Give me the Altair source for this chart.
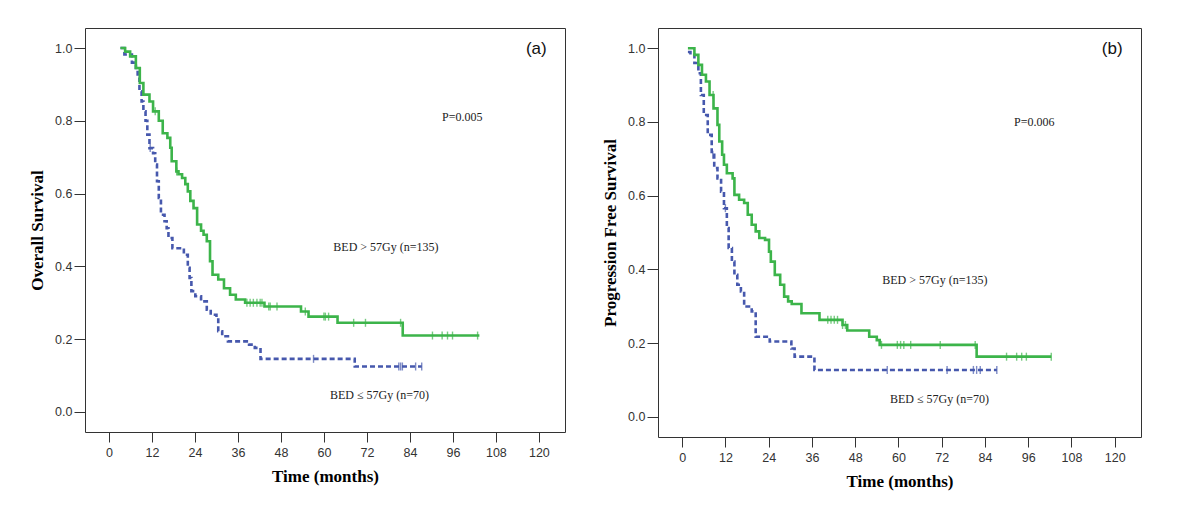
import altair as alt
import pandas as pd

GREEN = "#3cb44a"
BLUE = "#4658ad"

# ---------- (a) Overall survival ----------
a_hi_t = [3.2, 4.5, 5.9, 7.5, 8.6, 9.6, 11.3, 12.3, 13.9, 15.0, 16.3, 17.1, 17.5, 18.8, 19.4, 20.4, 21.3, 22.0,
          22.7, 23.6, 24.6, 25.7, 26.4, 27.3, 28.2, 28.9, 30.5, 32.1, 33.8, 35.4, 38.0, 43.4, 53.6, 55.7, 63.8,
          82.0, 103.4]
a_hi_s = [1.0, 0.99, 0.977, 0.945, 0.904, 0.872, 0.853, 0.826, 0.800, 0.766, 0.753, 0.726, 0.689, 0.661, 0.653,
          0.643, 0.626, 0.606, 0.580, 0.560, 0.515, 0.498, 0.487, 0.469, 0.414, 0.377, 0.364, 0.340, 0.322, 0.309,
          0.300, 0.290, 0.276, 0.262, 0.245, 0.210, 0.210]
a_hi_c = [12.9, 18.9, 38.5, 39.4, 40.3, 41.3, 42.2, 42.7, 44.6, 45.0, 46.9, 54.8, 60.0, 60.4, 61.3,
          68.3, 71.6, 81.4, 90.3, 93.0, 94.5, 95.9, 102.9]

a_lo_t = [3.2, 4.3, 6.4, 7.5, 8.0, 8.5, 9.1, 9.6, 10.2, 10.7, 11.3, 12.3, 12.9, 13.4, 13.9, 14.5, 15.5, 16.1,
          16.6, 17.7, 20.9, 22.0, 22.5, 23.0, 24.1, 25.7, 27.3, 28.4, 30.0, 30.5, 31.6, 33.2, 39.1, 40.7, 42.3,
          68.6, 87.3]
a_lo_s = [1.0, 0.982, 0.96, 0.945, 0.918, 0.881, 0.853, 0.826, 0.8, 0.762, 0.725, 0.711, 0.68, 0.634, 0.588,
          0.542, 0.524, 0.505, 0.478, 0.45, 0.432, 0.396, 0.368, 0.332, 0.318, 0.304, 0.281, 0.267, 0.258, 0.222,
          0.208, 0.194, 0.185, 0.176, 0.146, 0.125, 0.125]
a_lo_c = [11.5, 57.1, 80.9, 81.4, 81.9, 85.6, 87.3]

a_note_text = ["P=0.005", "BED > 57Gy (n=135)", "BED \u2264 57Gy (n=70)"]
a_note_x = [98.6, 77.3, 75.5]
a_note_y = [0.81, 0.453, 0.047]
a_letter = "(a)"

# ---------- (b) Progression free survival ----------
b_hi_t = [1.6, 3.4, 4.5, 5.5, 6.6, 7.6, 8.7, 9.8, 10.3, 11.1, 11.6, 12.4, 14.0, 14.5, 15.8, 17.2, 18.2, 19.3,
          20.4, 21.4, 23.0, 24.1, 24.6, 25.7, 27.2, 28.3, 29.4, 30.4, 33.1, 38.1, 44.5, 45.8, 51.9, 54.0, 54.8,
          81.7, 102.4]
b_hi_s = [1.0, 0.982, 0.955, 0.928, 0.91, 0.873, 0.837, 0.792, 0.747, 0.711, 0.684, 0.661, 0.647, 0.602, 0.589,
          0.58, 0.548, 0.521, 0.503, 0.485, 0.48, 0.448, 0.421, 0.385, 0.358, 0.326, 0.313, 0.306, 0.281, 0.263,
          0.249, 0.234, 0.217, 0.208, 0.195, 0.163, 0.163]
b_hi_c = [8.6, 40.4, 41.3, 42.2, 43.1, 44.5, 45.3, 55.3, 59.7, 60.6, 61.5, 63.4, 71.6, 81.3, 90.0, 92.8, 94.2,
          95.5, 102.4]

b_lo_t = [1.6, 2.3, 3.4, 4.5, 5.2, 6.0, 7.1, 8.2, 8.9, 9.8, 10.8, 11.6, 12.4, 12.9, 13.8, 14.5, 15.3, 16.3,
          17.2, 19.3, 20.4, 24.3, 30.3, 31.2, 36.7, 87.3]
b_lo_s = [0.99, 0.982, 0.96, 0.932, 0.873, 0.819, 0.765, 0.711, 0.675, 0.647, 0.611, 0.566, 0.512, 0.458, 0.421,
          0.385, 0.358, 0.34, 0.299, 0.286, 0.217, 0.204, 0.185, 0.163, 0.127, 0.127]
b_lo_c = [8.5, 12.0, 56.9, 73.5, 80.8, 81.7, 82.7, 87.3]

b_note_text = ["P=0.006", "BED > 57Gy (n=135)", "BED \u2264 57Gy (n=70)"]
b_note_x = [97.7, 70.1, 71.4]
b_note_y = [0.80, 0.37, 0.049]
b_letter = "(b)"

x_ticks = [0, 12, 24, 36, 48, 60, 72, 84, 96, 108, 120]
y_ticks = [0.0, 0.2, 0.4, 0.6, 0.8, 1.0]
X_DOMAIN = [-6.7, 127.3]
Y_DOMAIN = [-0.055, 1.055]


def level(ts, ss, c):
    v = ss[0]
    for t, s in zip(ts, ss):
        if t <= c:
            v = s
    return v


def panel(hi_t, hi_s, hi_c, lo_t, lo_s, lo_c, note_text, note_x, note_y, letter, ytitle, w, h):
    xs = alt.Scale(domain=X_DOMAIN, nice=False, zero=False)
    ys = alt.Scale(domain=Y_DOMAIN, nice=False, zero=False)
    xax = alt.Axis(values=x_ticks, title="Time (months)", grid=False, domain=False, tickSize=10,
                   tickColor="#333", labelPadding=4, titlePadding=10)
    yax = alt.Axis(values=y_ticks, format=".1f", title=ytitle, grid=False, domain=False, tickSize=11,
                   tickColor="#333", labelPadding=2, titlePadding=8)

    hi = pd.DataFrame({"t": hi_t, "s": hi_s})
    lo = pd.DataFrame({"t": lo_t, "s": lo_s})
    hic = pd.DataFrame({"t": hi_c, "s": [level(hi_t, hi_s, c) for c in hi_c]})
    loc = pd.DataFrame({"t": lo_c, "s": [level(lo_t, lo_s, c) for c in lo_c]})
    notes = pd.DataFrame({"label": note_text, "x": note_x, "y": note_y})
    let = pd.DataFrame({"label": [letter], "x": [119.3], "y": [0.997]})

    lo_line = alt.Chart(lo).mark_line(interpolate="step-after", color=BLUE, strokeWidth=2.6,
                                      strokeDash=[5, 3]).encode(
        x=alt.X("t:Q", scale=xs, axis=xax), y=alt.Y("s:Q", scale=ys, axis=yax))
    hi_line = alt.Chart(hi).mark_line(interpolate="step-after", color=GREEN, strokeWidth=2.6).encode(
        x=alt.X("t:Q", scale=xs), y=alt.Y("s:Q", scale=ys))
    lo_cen = alt.Chart(loc).mark_tick(orient="vertical", color=BLUE, size=8, thickness=1.4).encode(
        x=alt.X("t:Q", scale=xs), y=alt.Y("s:Q", scale=ys))
    hi_cen = alt.Chart(hic).mark_tick(orient="vertical", color=GREEN, size=8, thickness=1.4).encode(
        x=alt.X("t:Q", scale=xs), y=alt.Y("s:Q", scale=ys))
    note = alt.Chart(notes).mark_text(font="Liberation Serif", fontSize=12, color="#222",
                                      align="center", baseline="middle").encode(
        x=alt.X("x:Q", scale=xs), y=alt.Y("y:Q", scale=ys), text="label:N")
    lab = alt.Chart(let).mark_text(font="Liberation Sans", fontSize=17, color="#111",
                                   align="center", baseline="middle").encode(
        x=alt.X("x:Q", scale=xs), y=alt.Y("y:Q", scale=ys), text="label:N")
    return alt.layer(lo_line, hi_line, lo_cen, hi_cen, note, lab).properties(width=w, height=h)


left = panel(a_hi_t, a_hi_s, a_hi_c, a_lo_t, a_lo_s, a_lo_c, a_note_text, a_note_x, a_note_y,
             a_letter, "Overall Survival", 480, 404)
right = panel(b_hi_t, b_hi_s, b_hi_c, b_lo_t, b_lo_s, b_lo_c, b_note_text, b_note_x, b_note_y,
              b_letter, "Progression Free Survival", 483, 409)

chart = alt.hconcat(left, right, spacing=35).properties(
    padding={"left": 20, "top": 19, "right": 5, "bottom": 5},
    background="white",
).configure_view(stroke="#333", strokeWidth=1).configure_axis(
    labelFont="Liberation Sans", labelFontSize=12.5, labelColor="#333",
    titleFont="Liberation Serif", titleFontSize=17, titleFontWeight="bold", titleColor="#000",
)

chart.save("out.html", embed_options={"renderer": "svg", "actions": False})
